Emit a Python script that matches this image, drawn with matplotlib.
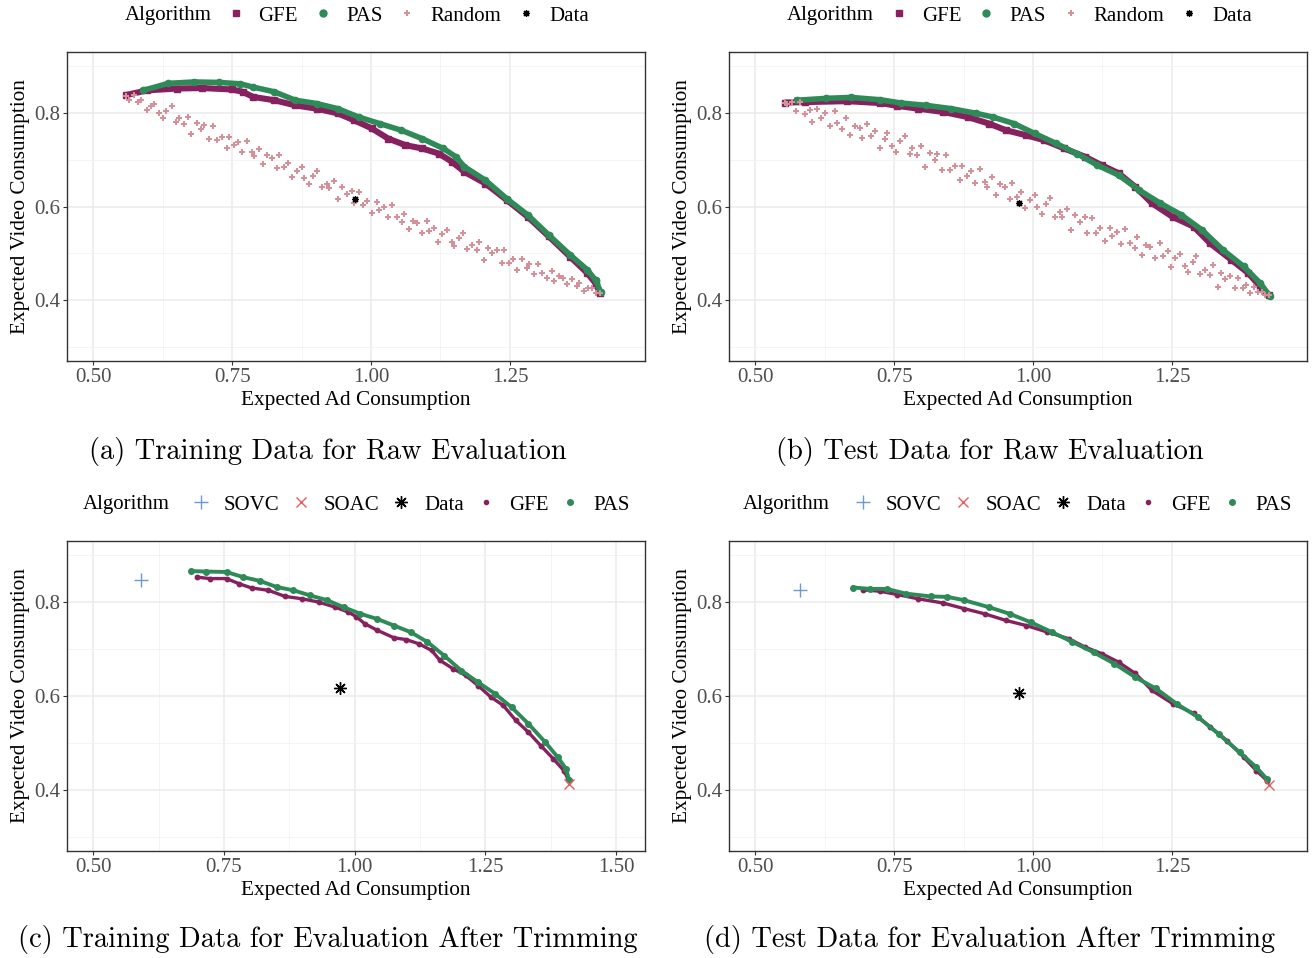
import matplotlib
matplotlib.use("Agg")
import matplotlib.pyplot as plt
from matplotlib.lines import Line2D

plt.rcParams['font.family'] = ['Liberation Serif', 'DejaVu Serif']

# colours
col_gfe = '#87205E'
col_pas = '#2E8B57'
col_rnd = '#D4919A'
col_sovc = '#6B9BD1'
col_soac = '#E06060'

# ---------------- (a) training data, raw evaluation ----------------
a_gfe_x = [0.559, 0.597, 0.651, 0.696, 0.750, 0.769, 0.788, 0.826, 0.864, 0.902, 0.940, 0.970,
           1.001, 1.031, 1.062, 1.092, 1.122, 1.145, 1.168, 1.206, 1.244, 1.282, 1.320, 1.358,
           1.389, 1.404, 1.412]
a_gfe_y = [0.838, 0.848, 0.852, 0.853, 0.850, 0.845, 0.834, 0.827, 0.816, 0.809, 0.799, 0.784,
           0.767, 0.745, 0.731, 0.724, 0.713, 0.696, 0.674, 0.649, 0.614, 0.578, 0.536, 0.493,
           0.458, 0.436, 0.415]
a_pas_x = [0.590, 0.635, 0.681, 0.727, 0.765, 0.788, 0.826, 0.864, 0.902, 0.940, 0.978, 1.016,
           1.054, 1.092, 1.130, 1.153, 1.168, 1.206, 1.244, 1.282, 1.320, 1.358, 1.389, 1.404, 1.413]
a_pas_y = [0.848, 0.863, 0.866, 0.865, 0.862, 0.855, 0.845, 0.827, 0.820, 0.809, 0.791, 0.777,
           0.763, 0.745, 0.724, 0.706, 0.685, 0.656, 0.617, 0.582, 0.539, 0.497, 0.465, 0.443, 0.418]
a_rnd_x = [0.560, 0.565, 0.574, 0.581, 0.587, 0.597, 0.605, 0.610, 0.619, 0.626, 0.632, 0.642,
           0.650, 0.655, 0.664, 0.671, 0.677, 0.687, 0.695, 0.700, 0.709, 0.716, 0.722, 0.732,
           0.740, 0.745, 0.754, 0.761, 0.767, 0.777, 0.785, 0.790, 0.799, 0.806, 0.812, 0.822,
           0.830, 0.835, 0.844, 0.851, 0.857, 0.867, 0.875, 0.880, 0.889, 0.896, 0.902, 0.912,
           0.920, 0.925, 0.934, 0.941, 0.947, 0.957, 0.965, 0.970, 0.979, 0.986, 0.992, 1.002,
           1.010, 1.015, 1.024, 1.031, 1.037, 1.047, 1.055, 1.060, 1.069, 1.076, 1.082, 1.092,
           1.100, 1.105, 1.114, 1.121, 1.127, 1.137, 1.145, 1.150, 1.159, 1.166, 1.172, 1.182,
           1.190, 1.195, 1.204, 1.211, 1.217, 1.227, 1.235, 1.240, 1.249, 1.256, 1.262, 1.272,
           1.280, 1.285, 1.294, 1.301, 1.307, 1.317, 1.325, 1.330, 1.339, 1.346, 1.352, 1.362,
           1.370, 1.375, 1.384, 1.391, 1.397, 1.405, 1.412]
a_rnd_y = [0.837, 0.828, 0.838, 0.823, 0.828, 0.807, 0.814, 0.820, 0.799, 0.790, 0.805, 0.814,
           0.780, 0.789, 0.777, 0.792, 0.754, 0.778, 0.765, 0.774, 0.744, 0.771, 0.743, 0.749,
           0.725, 0.749, 0.731, 0.738, 0.717, 0.740, 0.716, 0.707, 0.723, 0.691, 0.709, 0.703,
           0.682, 0.709, 0.684, 0.692, 0.662, 0.676, 0.684, 0.661, 0.648, 0.666, 0.676, 0.641,
           0.649, 0.639, 0.654, 0.615, 0.641, 0.626, 0.634, 0.607, 0.632, 0.604, 0.612, 0.587,
           0.609, 0.593, 0.599, 0.577, 0.603, 0.578, 0.567, 0.585, 0.552, 0.570, 0.565, 0.544,
           0.569, 0.547, 0.555, 0.525, 0.541, 0.549, 0.525, 0.515, 0.532, 0.543, 0.510, 0.518,
           0.507, 0.524, 0.485, 0.511, 0.500, 0.507, 0.479, 0.507, 0.479, 0.487, 0.464, 0.487,
           0.469, 0.478, 0.456, 0.478, 0.459, 0.448, 0.463, 0.440, 0.452, 0.448, 0.434, 0.446,
           0.431, 0.436, 0.420, 0.425, 0.426, 0.416, 0.415]
a_data = (0.972, 0.615)

# ---------------- (b) test data, raw evaluation ----------------
b_gfe_x = [0.553, 0.590, 0.665, 0.725, 0.756, 0.793, 0.838, 0.883, 0.921, 0.951, 0.988, 1.019,
           1.056, 1.094, 1.124, 1.154, 1.184, 1.214, 1.251, 1.289, 1.319, 1.357, 1.387, 1.409, 1.424]
b_gfe_y = [0.822, 0.823, 0.825, 0.821, 0.815, 0.809, 0.802, 0.791, 0.777, 0.763, 0.752, 0.742,
           0.724, 0.706, 0.688, 0.671, 0.642, 0.607, 0.578, 0.557, 0.521, 0.486, 0.458, 0.429, 0.411]
b_pas_x = [0.575, 0.628, 0.673, 0.725, 0.763, 0.808, 0.853, 0.898, 0.928, 0.966, 1.003, 1.041,
           1.079, 1.116, 1.154, 1.191, 1.229, 1.267, 1.304, 1.342, 1.379, 1.409, 1.426]
b_pas_y = [0.827, 0.831, 0.833, 0.828, 0.821, 0.816, 0.809, 0.799, 0.791, 0.777, 0.756, 0.735,
           0.713, 0.688, 0.667, 0.635, 0.607, 0.582, 0.550, 0.507, 0.472, 0.436, 0.409]
b_rnd_x = [0.553, 0.558, 0.567, 0.574, 0.580, 0.590, 0.598, 0.603, 0.612, 0.619, 0.625, 0.635,
           0.643, 0.648, 0.657, 0.664, 0.670, 0.680, 0.688, 0.693, 0.702, 0.709, 0.715, 0.725,
           0.733, 0.738, 0.747, 0.754, 0.760, 0.770, 0.778, 0.783, 0.792, 0.799, 0.805, 0.815,
           0.823, 0.828, 0.837, 0.844, 0.850, 0.860, 0.868, 0.873, 0.882, 0.889, 0.895, 0.905,
           0.913, 0.918, 0.927, 0.934, 0.940, 0.950, 0.958, 0.963, 0.972, 0.979, 0.985, 0.995,
           1.003, 1.008, 1.017, 1.024, 1.030, 1.040, 1.048, 1.053, 1.062, 1.069, 1.075, 1.085,
           1.093, 1.098, 1.107, 1.114, 1.120, 1.130, 1.138, 1.143, 1.152, 1.159, 1.165, 1.175,
           1.183, 1.188, 1.197, 1.204, 1.210, 1.220, 1.228, 1.233, 1.242, 1.249, 1.255, 1.265,
           1.273, 1.278, 1.287, 1.294, 1.300, 1.310, 1.318, 1.323, 1.332, 1.339, 1.345, 1.355,
           1.363, 1.368, 1.377, 1.384, 1.390, 1.398, 1.405, 1.412, 1.418, 1.424]
b_rnd_y = [0.822, 0.819, 0.823, 0.804, 0.823, 0.798, 0.806, 0.780, 0.808, 0.788, 0.799, 0.773,
           0.804, 0.778, 0.766, 0.788, 0.752, 0.773, 0.768, 0.747, 0.777, 0.750, 0.762, 0.725,
           0.745, 0.757, 0.729, 0.716, 0.739, 0.751, 0.712, 0.724, 0.711, 0.730, 0.685, 0.715,
           0.700, 0.712, 0.677, 0.709, 0.678, 0.686, 0.657, 0.687, 0.666, 0.676, 0.651, 0.681,
           0.653, 0.642, 0.662, 0.625, 0.647, 0.641, 0.617, 0.650, 0.621, 0.632, 0.596, 0.614,
           0.624, 0.598, 0.584, 0.605, 0.619, 0.578, 0.588, 0.577, 0.595, 0.550, 0.582, 0.566,
           0.577, 0.544, 0.576, 0.544, 0.555, 0.526, 0.555, 0.536, 0.545, 0.520, 0.552, 0.523,
           0.511, 0.534, 0.496, 0.518, 0.514, 0.490, 0.521, 0.495, 0.505, 0.470, 0.490, 0.499,
           0.472, 0.460, 0.481, 0.494, 0.455, 0.465, 0.453, 0.474, 0.427, 0.459, 0.445, 0.452,
           0.426, 0.447, 0.426, 0.432, 0.416, 0.427, 0.417, 0.418, 0.412, 0.410]
b_data = (0.975, 0.607)

# ---------------- (c) training data, after trimming ----------------
c_gfe_x = [0.699, 0.723, 0.755, 0.779, 0.803, 0.835, 0.867, 0.899, 0.931, 0.963, 0.987, 1.003,
           1.019, 1.043, 1.075, 1.099, 1.123, 1.147, 1.163, 1.188, 1.212, 1.236, 1.260, 1.284,
           1.308, 1.332, 1.356, 1.380, 1.400, 1.408]
c_gfe_y = [0.853, 0.850, 0.850, 0.839, 0.830, 0.825, 0.812, 0.807, 0.800, 0.789, 0.779, 0.769,
           0.754, 0.740, 0.724, 0.720, 0.711, 0.697, 0.676, 0.658, 0.644, 0.622, 0.598, 0.580,
           0.548, 0.523, 0.494, 0.466, 0.441, 0.423]
c_pas_x = [0.687, 0.715, 0.755, 0.787, 0.819, 0.851, 0.883, 0.915, 0.947, 0.979, 1.011, 1.043,
           1.075, 1.107, 1.139, 1.171, 1.204, 1.236, 1.268, 1.300, 1.332, 1.364, 1.388, 1.404, 1.410]
c_pas_y = [0.866, 0.865, 0.864, 0.853, 0.845, 0.832, 0.825, 0.814, 0.804, 0.789, 0.775, 0.764,
           0.750, 0.736, 0.715, 0.686, 0.654, 0.629, 0.605, 0.576, 0.541, 0.502, 0.470, 0.445, 0.421]
c_sovc = (0.591, 0.848)
c_soac = (1.410, 0.413)
c_data = (0.971, 0.617)

# ---------------- (d) test data, after trimming ----------------
d_gfe_x = [0.695, 0.725, 0.756, 0.793, 0.838, 0.876, 0.913, 0.951, 0.988, 1.026, 1.064, 1.094,
           1.124, 1.154, 1.184, 1.214, 1.251, 1.289, 1.319, 1.349, 1.379, 1.402, 1.421]
d_gfe_y = [0.826, 0.823, 0.816, 0.807, 0.798, 0.786, 0.775, 0.761, 0.750, 0.736, 0.722, 0.704,
           0.690, 0.672, 0.648, 0.612, 0.584, 0.563, 0.534, 0.505, 0.470, 0.441, 0.420]
d_pas_x = [0.677, 0.707, 0.737, 0.771, 0.816, 0.846, 0.876, 0.921, 0.958, 0.996, 1.034, 1.071,
           1.109, 1.146, 1.184, 1.221, 1.259, 1.297, 1.334, 1.372, 1.402, 1.421]
d_pas_y = [0.831, 0.828, 0.828, 0.818, 0.812, 0.811, 0.804, 0.789, 0.775, 0.757, 0.736, 0.715,
           0.693, 0.669, 0.640, 0.616, 0.583, 0.555, 0.519, 0.480, 0.448, 0.423]
d_sovc = (0.580, 0.825)
d_soac = (1.424, 0.411)
d_data = (0.975, 0.607)

captions = ['(a) Training Data for Raw Evaluation', '(b) Test Data for Raw Evaluation',
            '(c) Training Data for Evaluation After Trimming', '(d) Test Data for Evaluation After Trimming']

W, H = 1312, 958
fig = plt.figure(figsize=(W / 100, H / 100), dpi=100)

def make_ax(left, top, bottom, right):
    return fig.add_axes([left / W, 1 - bottom / H, (right - left) / W, (bottom - top) / H])

star = (8, 2, 0)
leg_y = 1.117


def style(ax, xlim, xticks):
    ax.set_xlim(*xlim)
    ax.set_ylim(0.27, 0.93)
    ax.set_xticks(xticks)
    ax.set_xticklabels(['%.2f' % t for t in xticks])
    ax.set_yticks([0.4, 0.6, 0.8])
    ax.set_yticklabels(['0.4', '0.6', '0.8'])
    minx = [(xticks[i] + xticks[i + 1]) / 2 for i in range(len(xticks) - 1)]
    ax.set_xticks(minx, minor=True)
    ax.set_yticks([0.3, 0.5, 0.7, 0.9], minor=True)
    ax.grid(which='major', color='#EBEBEB', lw=1.1)
    ax.grid(which='minor', color='#F2F2F2', lw=0.6)
    ax.set_axisbelow(True)
    ax.tick_params(which='major', length=3, width=0.8, color='#333333', pad=2,
                   labelsize=15, labelcolor='#4D4D4D')
    ax.tick_params(which='minor', length=0)
    for s in ax.spines.values():
        s.set_color('#333333')
        s.set_linewidth(1.0)
    ax.set_xlabel('Expected Ad Consumption', fontsize=15.3)
    ax.set_ylabel('Expected Video Consumption', fontsize=15.3)
    ax.xaxis.set_label_coords(0.5, -0.098)
    ax.yaxis.set_label_coords(-0.064, 0.5)


def raw_panel(ax, gx, gy, px, py, rx, ry, dpt, title_x, leg_x):
    ax.plot(gx, gy, '-', color=col_gfe, lw=4.4, solid_capstyle='butt', zorder=3)
    ax.plot(gx, gy, 's', color=col_gfe, ms=4, zorder=3)
    ax.plot(px, py, '-', color=col_pas, lw=4.0, zorder=4)
    ax.plot(px, py, 'o', color=col_pas, ms=4.5, zorder=4)
    ax.plot(rx, ry, 'P', color=col_rnd, ms=4.2, mew=0, ls='none', zorder=5)
    ax.plot([dpt[0]], [dpt[1]], marker=star, color='black', ms=5, mew=0.9, ls='none', zorder=6)
    style(ax, (0.453, 1.493), [0.50, 0.75, 1.00, 1.25])
    handles = [Line2D([], [], marker='s', color=col_gfe, ms=5, ls='none'),
               Line2D([], [], marker='o', color=col_pas, ms=5, ls='none'),
               Line2D([], [], marker='P', color=col_rnd, ms=3.8, mew=0, ls='none'),
               Line2D([], [], marker=star, color='black', ms=5, mew=0.9, ls='none')]
    ax.legend(handles, ['GFE', 'PAS', 'Random', 'Data'], loc='center', bbox_to_anchor=(leg_x, leg_y),
              ncol=4, frameon=False, handlelength=0.8, handletextpad=0.7, columnspacing=0.8,
              fontsize=15, borderaxespad=0, borderpad=0)
    ax.text(title_x, leg_y, 'Algorithm', transform=ax.transAxes, ha='center', va='center', fontsize=15)


def trim_panel(ax, gx, gy, px, py, sovc, soac, dpt, xlim, xticks, title_x, leg_x):
    ax.plot(gx, gy, '-', color=col_gfe, lw=2.4, zorder=3)
    ax.plot(gx, gy, 'o', color=col_gfe, ms=3.2, zorder=3)
    ax.plot(px, py, '-', color=col_pas, lw=2.8, zorder=4)
    ax.plot(px, py, 'o', color=col_pas, ms=4, zorder=4)
    ax.plot([sovc[0]], [sovc[1]], '+', color=col_sovc, ms=10, mew=1.0, zorder=5)
    ax.plot([soac[0]], [soac[1]], 'x', color=col_soac, ms=7, mew=1.0, zorder=5)
    ax.plot([dpt[0]], [dpt[1]], marker=star, color='black', ms=9, mew=1.0, ls='none', zorder=6)
    style(ax, xlim, xticks)
    handles = [Line2D([], [], marker='+', color=col_sovc, ms=10, mew=1.0, ls='none'),
               Line2D([], [], marker='x', color=col_soac, ms=7, mew=1.0, ls='none'),
               Line2D([], [], marker=star, color='black', ms=9, mew=1.0, ls='none'),
               Line2D([], [], marker='o', color=col_gfe, ms=3, ls='none'),
               Line2D([], [], marker='o', color=col_pas, ms=4, ls='none')]
    ax.legend(handles, ['SOVC', 'SOAC', 'Data', 'GFE', 'PAS'], loc='center',
              bbox_to_anchor=(leg_x, leg_y), ncol=5, frameon=False, handlelength=0.8,
              handletextpad=0.7, columnspacing=0.65, fontsize=15, borderaxespad=0, borderpad=0)
    ax.text(title_x, leg_y, 'Algorithm', transform=ax.transAxes, ha='center', va='center', fontsize=15)


ax_a = make_ax(67, 52, 361, 645)
ax_b = make_ax(729, 52, 361, 1307)
ax_c = make_ax(67, 541, 851, 645)
ax_d = make_ax(729, 541, 851, 1307)

raw_panel(ax_a, a_gfe_x, a_gfe_y, a_pas_x, a_pas_y, a_rnd_x, a_rnd_y, a_data, 0.175, 0.590)
raw_panel(ax_b, b_gfe_x, b_gfe_y, b_pas_x, b_pas_y, b_rnd_x, b_rnd_y, b_data, 0.175, 0.592)
trim_panel(ax_c, c_gfe_x, c_gfe_y, c_pas_x, c_pas_y, c_sovc, c_soac, c_data,
           (0.45, 1.555), [0.50, 0.75, 1.00, 1.25, 1.50], 0.102, 0.595)
trim_panel(ax_d, d_gfe_x, d_gfe_y, d_pas_x, d_pas_y, d_sovc, d_soac, d_data,
           (0.453, 1.493), [0.50, 0.75, 1.00, 1.25], 0.099, 0.595)

cap_pos = [(328, 451), (990, 451), (328, 940), (990, 940)]
for cap, (cx, cy) in zip(captions, cap_pos):
    fig.text(cx / W, 1 - cy / H, cap, ha='center', va='center', fontsize=20.5, family='cmr10')

fig.savefig('out.png', dpi=100)
